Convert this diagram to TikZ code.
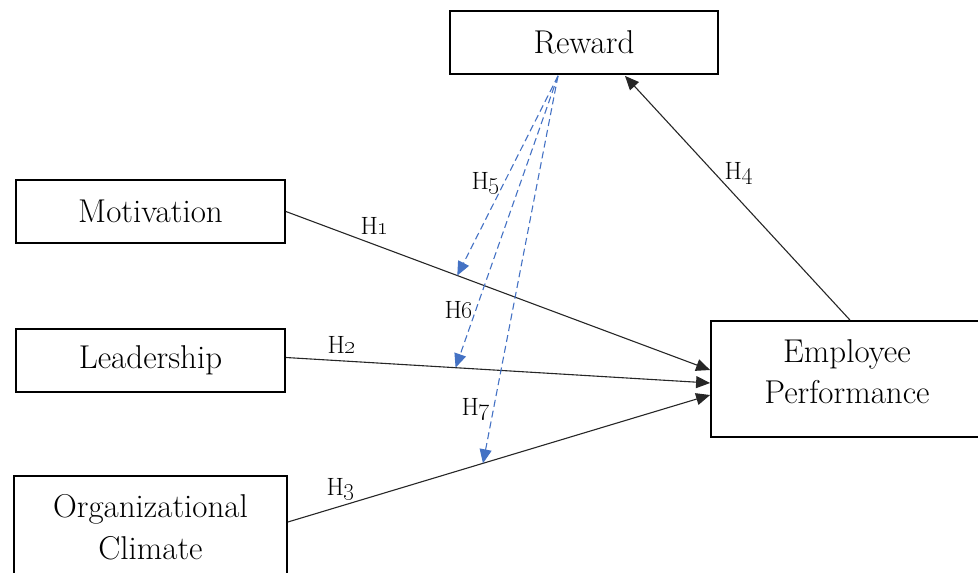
\documentclass[tikz,border=0pt]{standalone}
\usetikzlibrary{arrows.meta,calc}
\definecolor{dashblue}{HTML}{4472C4}
\tikzset{
  box/.style={draw=black, line width=1.8pt, fill=white, inner sep=0pt, align=center,
    font=\fontsize{33}{42}\selectfont},
  link/.style={draw=black!85, line width=1.1pt, -{Triangle[length=14pt,width=12pt]}},
  modlink/.style={draw=dashblue, line width=1.1pt, dash pattern=on 7pt off 4pt,
    -{Triangle[length=14pt,width=12pt]}},
  hyp/.style={font=\fontsize{25}{30}\selectfont, inner sep=0pt},
}
\newcommand{\hlabel}[1]{H\oldstylenums{#1}}
\begin{document}
\begin{tikzpicture}[x=1pt,y=-1pt]
  \useasboundingbox (0,0) rectangle (978,573);
  \clip (0,0) rectangle (978,573);

  % constructs
  \node[box, minimum width=268pt, minimum height=63pt] (rew) at (584,42.5) {Reward};
  \node[box, minimum width=269pt, minimum height=63pt] (mot) at (150.5,211.5) {Motivation};
  \node[box, minimum width=269pt, minimum height=63pt] (lead) at (150.5,360.5) {Leadership};
  \node[box, minimum width=273pt, minimum height=102pt] (org) at (150.5,527) {Organizational\\Climate};
  \node[box, minimum width=272pt, minimum height=116pt,
        label={[yshift=7pt, align=center, inner sep=0pt,
                font=\fontsize{33}{41}\selectfont]center:Employee\\Performance}] (ep) at (847,379) {};

  % connector end points
  \coordinate (ep1) at ($(ep.west)+(0,-9)$);
  \coordinate (ep2) at ($(ep.west)+(0,4)$);
  \coordinate (ep3) at ($(ep.west)+(0,16)$);
  \coordinate (mot1) at (mot.east);
  \coordinate (lead1) at ($(lead.east)+(0,-3)$);
  \coordinate (org1) at ($(org.east)+(0,-5)$);
  \coordinate (rewin) at ($(rew.south)+(41,1)$);
  \coordinate (rewout) at ($(rew.south)+(-26,1)$);
  \coordinate (epout) at ($(ep.north)+(3,0)$);

  % direct effects
  \draw[link] (mot1) -- (ep1);
  \draw[link] (lead1) -- (ep2);
  \draw[link] (org1) -- (ep3);
  \draw[link] (epout) -- (rewin);

  % moderating effects
  \coordinate (m1) at ($(mot1)!0.404!(ep1)$);
  \coordinate (m2) at ($(lead1)!0.40!(ep2)$);
  \coordinate (m3) at ($(org1)!0.462!(ep3)$);
  \draw[modlink] (rewout) -- (m1);
  \draw[modlink] (rewout) -- (m2);
  \draw[modlink] (rewout) -- (m3);

  % hypothesis labels
  \node[hyp] (h1) at (375,226) {\hlabel{1}};
  \node[hyp] (h2) at (342,345) {\hlabel{2}};
  \node[hyp] (h3) at (341,489) {\hlabel{3}};
  \node[hyp] (h4) at (739,173) {\hlabel{4}};
  \node[hyp] (h5) at (486,183) {\hlabel{5}};
  \node[hyp] (h6) at (459,310) {\hlabel{6}};
  \node[hyp] (h7) at (476,409) {\hlabel{7}};
\end{tikzpicture}
\end{document}
